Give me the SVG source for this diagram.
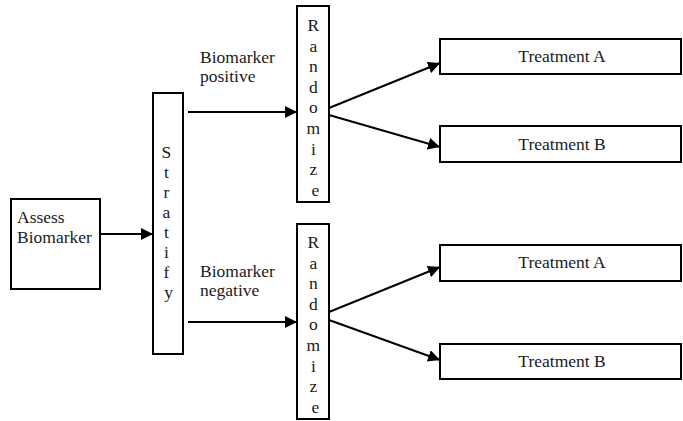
<svg xmlns="http://www.w3.org/2000/svg" width="683" height="421" viewBox="0 0 683 421" font-family="Liberation Serif, DejaVu Serif, serif" font-size="17.5">
  <defs>
    <style>
      .box { fill: #ffffff; stroke: #000000; stroke-width: 2; }
      .lbl { fill: #1a1a1a; }
      .mid { text-anchor: middle; }
      .edge { stroke: #000000; stroke-width: 2; fill: none; marker-end: url(#head); }
    </style>
    <marker id="head" markerUnits="userSpaceOnUse" markerWidth="14" markerHeight="12" refX="12" refY="6" orient="auto">
      <path d="M0,0 L12,6 L0,12 Z" fill="#000000"/>
    </marker>
  </defs>
  <rect width="683" height="421" fill="#ffffff"/>

  <g id="connectors">
    <line class="edge" x1="100" y1="234" x2="153" y2="234"/>
    <line class="edge" x1="188" y1="112" x2="297" y2="112"/>
    <line class="edge" x1="188" y1="322" x2="297" y2="322"/>
    <line class="edge" x1="329" y1="108" x2="440" y2="63"/>
    <line class="edge" x1="329" y1="115" x2="440" y2="147"/>
    <line class="edge" x1="329" y1="312" x2="440" y2="267"/>
    <line class="edge" x1="329" y1="320" x2="440" y2="360"/>
  </g>

  <g id="assess">
    <rect class="box" x="11" y="199" width="89" height="90"/>
    <text class="lbl" x="17" y="223">Assess</text>
    <text class="lbl" x="17" y="243">Biomarker</text>
  </g>

  <g id="stratify">
    <rect class="box" x="153" y="93" width="30" height="261"/>
    <text class="lbl mid">
      <tspan x="168.5" y="158">S</tspan>
      <tspan x="168.5" y="178">t</tspan>
      <tspan x="168.5" y="198">r</tspan>
      <tspan x="168.5" y="218">a</tspan>
      <tspan x="168.5" y="238">t</tspan>
      <tspan x="168.5" y="258">i</tspan>
      <tspan x="168.5" y="278">f</tspan>
      <tspan x="168.5" y="298">y</tspan>
    </text>
  </g>

  <g id="label-positive">
    <text class="lbl" x="200" y="63">Biomarker</text>
    <text class="lbl" x="200" y="82">positive</text>
  </g>

  <g id="label-negative">
    <text class="lbl" x="200" y="277">Biomarker</text>
    <text class="lbl" x="200" y="296">negative</text>
  </g>

  <g id="randomize-positive">
    <rect class="box" x="297" y="6" width="32" height="196"/>
    <text class="lbl mid">
      <tspan x="315.5" y="31">R</tspan>
      <tspan x="315.5" y="51.6">a</tspan>
      <tspan x="315.5" y="72.2">n</tspan>
      <tspan x="315.5" y="92.8">d</tspan>
      <tspan x="315.5" y="113.4">o</tspan>
      <tspan x="315.5" y="134">m</tspan>
      <tspan x="315.5" y="154.6">i</tspan>
      <tspan x="315.5" y="175.2">z</tspan>
      <tspan x="315.5" y="195.8">e</tspan>
    </text>
  </g>

  <g id="randomize-negative">
    <rect class="box" x="297" y="224" width="32" height="195"/>
    <text class="lbl mid">
      <tspan x="315.5" y="248">R</tspan>
      <tspan x="315.5" y="268.6">a</tspan>
      <tspan x="315.5" y="289.2">n</tspan>
      <tspan x="315.5" y="309.8">d</tspan>
      <tspan x="315.5" y="330.4">o</tspan>
      <tspan x="315.5" y="351">m</tspan>
      <tspan x="315.5" y="371.6">i</tspan>
      <tspan x="315.5" y="392.2">z</tspan>
      <tspan x="315.5" y="412.8">e</tspan>
    </text>
  </g>

  <g id="treatment-a-positive">
    <rect class="box" x="440" y="39" width="241" height="35"/>
    <text class="lbl mid" x="562" y="62">Treatment A</text>
  </g>

  <g id="treatment-b-positive">
    <rect class="box" x="440" y="126" width="241" height="36"/>
    <text class="lbl mid" x="562" y="150">Treatment B</text>
  </g>

  <g id="treatment-a-negative">
    <rect class="box" x="440" y="245" width="241" height="36"/>
    <text class="lbl mid" x="562" y="268">Treatment A</text>
  </g>

  <g id="treatment-b-negative">
    <rect class="box" x="440" y="344" width="241" height="35"/>
    <text class="lbl mid" x="562" y="367">Treatment B</text>
  </g>
</svg>
